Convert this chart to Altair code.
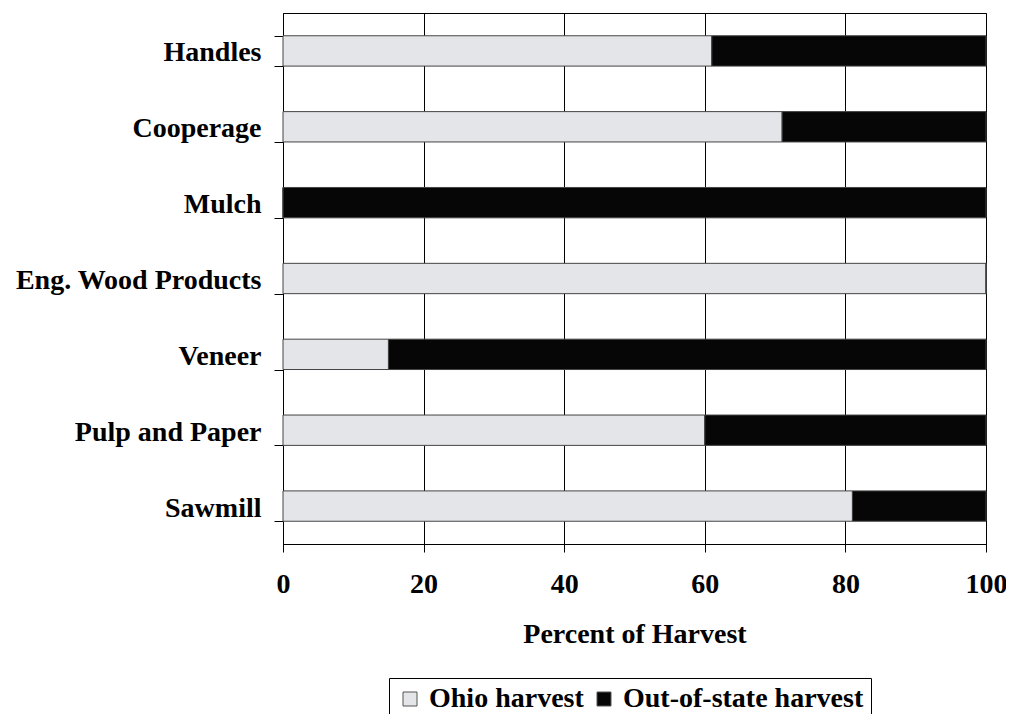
import altair as alt
import pandas as pd

categories = ["Handles", "Cooperage", "Mulch", "Eng. Wood Products", "Veneer", "Pulp and Paper", "Sawmill"]
ohio = [61, 71, 0, 100, 15, 60, 81]
out_of_state = [39, 29, 100, 0, 85, 40, 19]
series = ["Ohio harvest", "Out-of-state harvest"]
x_ticks = [0, 20, 40, 60, 80, 100]

rows = []
for c, o, s in zip(categories, ohio, out_of_state):
    rows.append({"category": c, "series": series[0], "value": o, "order": 0})
    rows.append({"category": c, "series": series[1], "value": s, "order": 1})
df = pd.DataFrame(rows)

FONT = "Liberation Serif"

chart = alt.Chart(df).mark_bar(stroke="#444444", strokeWidth=1).encode(
    y=alt.Y("category:N", sort=categories,
            scale=alt.Scale(paddingInner=0.6, paddingOuter=0.3),
            axis=alt.Axis(title=None, tickBand="extent", tickSize=9, tickColor="black",
                          domainColor="black", labelPadding=13, labelFontSize=28,
                          labelFont=FONT, labelFontWeight="bold", labelColor="black",
                          labelLimit=0, labelOffset=2, grid=False)),
    x=alt.X("value:Q", stack="zero",
            scale=alt.Scale(domain=[0, 100], nice=False),
            axis=alt.Axis(title="Percent of Harvest", values=x_ticks,
                          grid=True, gridColor="black", gridOpacity=1, gridWidth=1,
                          tickSize=8, tickColor="black", domainColor="black",
                          labelPadding=18, labelFontSize=28, labelFont=FONT,
                          labelFontWeight="bold", labelColor="black", labelFlush=False,
                          titleFont=FONT, titleFontSize=28, titleFontWeight="bold",
                          titleColor="black", titlePadding=22)),
    color=alt.Color("series:N", sort=series,
                    scale=alt.Scale(domain=series, range=["#e4e5e9", "#060606"]),
                    legend=alt.Legend(title=None, orient="none", direction="horizontal",
                                      legendX=106, legendY=665,
                                      strokeColor="black", padding=7,
                                      labelFont=FONT, labelFontSize=28, labelFontWeight="bold",
                                      labelColor="black", labelLimit=0,
                                      symbolType="square", symbolSize=196,
                                      symbolStrokeColor="#555555", symbolStrokeWidth=1,
                                      columnPadding=6, labelOffset=5)),
    order=alt.Order("order:Q"),
).properties(
    width=703, height=531,
    autosize=alt.AutoSizeParams(type="none"),
    padding={"left": 275, "top": 5, "right": 20, "bottom": 170},
).configure_view(stroke="black", strokeWidth=1)

chart.save("out.html", embed_options={"renderer": "svg", "actions": False})
